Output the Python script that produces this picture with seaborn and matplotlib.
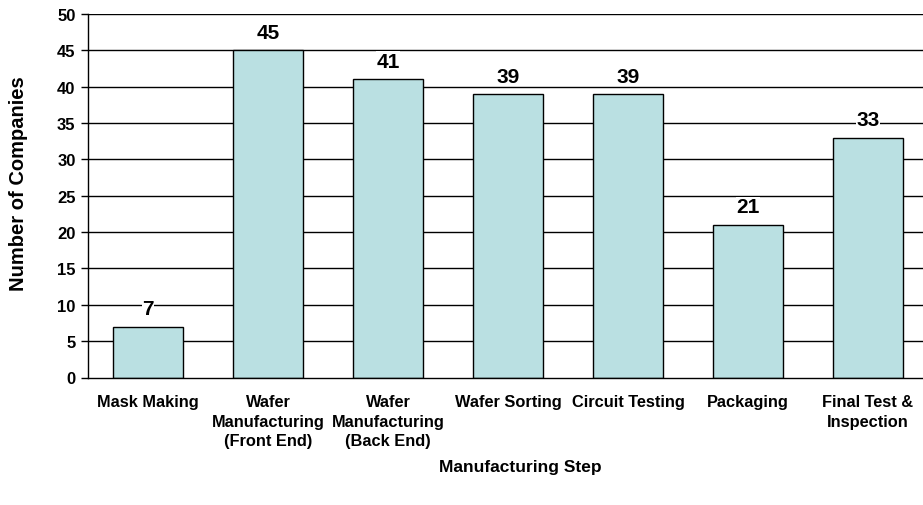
import matplotlib
matplotlib.use("Agg")
import matplotlib.pyplot as plt
import seaborn as sns
import pandas as pd
import numpy as np

# chart data
steps = [
    "Mask Making",
    "Wafer\nManufacturing\n(Front End)",
    "Wafer\nManufacturing\n(Back End)",
    "Wafer Sorting",
    "Circuit Testing",
    "Packaging",
    "Final Test &\nInspection",
]
companies = [7, 45, 41, 39, 39, 21, 33]
y_ticks = [0, 5, 10, 15, 20, 25, 30, 35, 40, 45, 50]

BAR_COLOR = "#BAE0E2"

sns.set_style("white")
plt.rcParams["font.family"] = ["Liberation Sans", "DejaVu Sans"]
plt.rcParams["font.weight"] = "bold"
plt.rcParams["text.color"] = "black"
plt.rcParams["axes.labelcolor"] = "black"
plt.rcParams["xtick.color"] = "black"
plt.rcParams["ytick.color"] = "black"

df = pd.DataFrame({"step": steps, "companies": companies})

fig = plt.figure(figsize=(9.23, 5.06), dpi=100)
ax = fig.add_axes([88 / 923, 1 - 378.5 / 506, 840 / 923, 363.5 / 506])

ax.set_axisbelow(True)
for v in y_ticks[1:]:
    ax.axhline(v, color="black", linewidth=1, zorder=0)

sns.barplot(data=df, x="step", y="companies", color=BAR_COLOR, saturation=1,
            edgecolor="black", linewidth=1, width=0.59, ax=ax, zorder=2)

# value labels sit on a white patch that hides the gridline behind them
for i, v in enumerate(companies):
    ax.annotate(str(v), xy=(i, v), xytext=(0, 6), textcoords="offset points",
                ha="center", va="bottom", fontsize=15, fontweight="bold",
                bbox=dict(facecolor="white", edgecolor="none", pad=0.5),
                zorder=3)

ax.set_ylim(0, 50)
ax.set_xlim(-0.5, 6.5)
ax.set_yticks(y_ticks)
ax.set_yticklabels([str(t) for t in y_ticks], fontsize=12, fontweight="bold")
ax.set_xticks(range(len(steps)))
ax.set_xticklabels(steps, fontsize=11.8, fontweight="bold", linespacing=1.37)
ax.set_xticks(np.arange(-0.5, 7, 1), minor=True)
ax.tick_params(axis="x", which="major", length=0, pad=12)
ax.tick_params(axis="x", which="minor", length=5, width=1, color="black",
               direction="out")
ax.tick_params(axis="y", length=5, width=1, color="black", direction="out",
               left=True, pad=4)

for s in ["top", "right"]:
    ax.spines[s].set_visible(False)
for s in ["left", "bottom"]:
    ax.spines[s].set_color("black")
    ax.spines[s].set_linewidth(1)

ax.set_xlabel("Manufacturing Step", fontsize=12.5, fontweight="bold")
ax.set_ylabel("Number of Companies", fontsize=14.5, fontweight="bold")
ax.xaxis.set_label_coords((520 - 88) / 840, (378.5 - 468) / 363.5)
ax.xaxis.label.set_va("center")
ax.yaxis.set_label_coords((18 - 88) / 840, (378.5 - 184) / 363.5)
ax.yaxis.label.set_va("center")

fig.savefig("out.png", dpi=100)
